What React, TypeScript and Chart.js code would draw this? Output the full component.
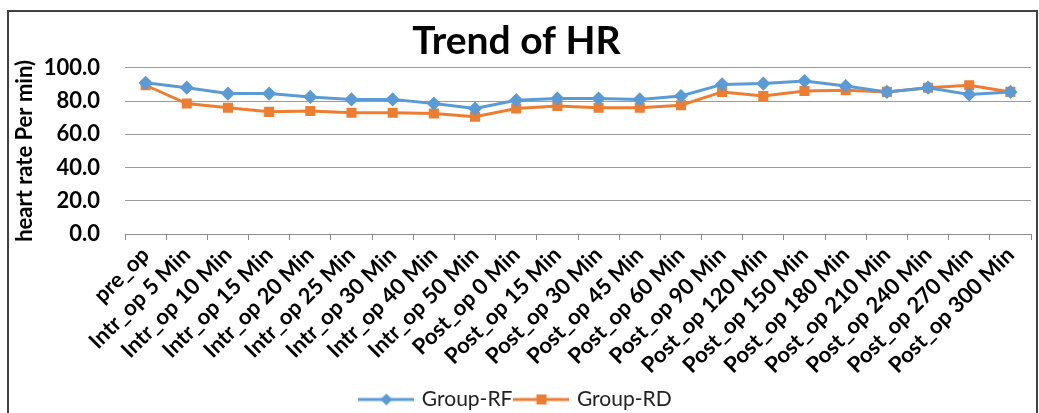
import { useEffect, useRef } from "react";
import { Chart, registerables } from "chart.js";

Chart.register(...registerables);

const chartTitle = "Trend of HR";
const yAxisTitle = "heart rate Per min)";
const categories = [
  "pre_op",
  "Intr_op 5 Min",
  "Intr_op 10 Min",
  "Intr_op 15 Min",
  "Intr_op 20 Min",
  "Intr_op 25 Min",
  "Intr_op 30 Min",
  "Intr_op 40 Min",
  "Intr_op 50 Min",
  "Post_op 0 Min",
  "Post_op 15 Min",
  "Post_op 30 Min",
  "Post_op 45 Min",
  "Post_op 60 Min",
  "Post_op 90 Min",
  "Post_op 120 Min",
  "Post_op 150 Min",
  "Post_op 180 Min",
  "Post_op 210 Min",
  "Post_op 240 Min",
  "Post_op 270 Min",
  "Post_op 300 Min",
];
const groupRF = [91, 88, 84.5, 84.5, 82.5, 81, 81, 78.5, 75.5, 80.5, 81.5, 81.5, 81, 83, 90, 90.5, 92, 89, 85.5, 88, 84, 85.5];
const groupRD = [89.5, 78.5, 76, 73.5, 74, 73, 73, 72.5, 70.5, 75.5, 77, 76, 76, 77.5, 85.5, 83, 86, 86.5, 85.5, 88, 89.5, 85.5];
const yTicks = [0, 20, 40, 60, 80, 100];
const seriesNames = ["Group-RF", "Group-RD"];

const BLUE = "#5B9BD5";
const ORANGE = "#ED7D31";
const FONT = "Lato, 'Open Sans', sans-serif";

function legendIcon(color: string, kind: "diamond" | "square") {
  const c = document.createElement("canvas");
  c.width = 56;
  c.height = 14;
  const ctx = c.getContext("2d")!;
  ctx.strokeStyle = color;
  ctx.lineWidth = 3;
  ctx.beginPath();
  ctx.moveTo(0, 7);
  ctx.lineTo(56, 7);
  ctx.stroke();
  ctx.fillStyle = color;
  if (kind === "diamond") {
    ctx.beginPath();
    ctx.moveTo(28, 1);
    ctx.lineTo(34, 7);
    ctx.lineTo(28, 13);
    ctx.lineTo(22, 7);
    ctx.closePath();
    ctx.fill();
  } else {
    ctx.fillRect(23, 2, 10, 10);
  }
  return c;
}

export default function App() {
  const ref = useRef<HTMLCanvasElement | null>(null);

  useEffect(() => {
    if (!ref.current) return;
    const icons = [legendIcon(BLUE, "diamond"), legendIcon(ORANGE, "square")];
    const chart = new Chart(ref.current, {
      type: "line",
      data: {
        labels: categories,
        datasets: [
          {
            label: seriesNames[0],
            data: groupRF,
            borderColor: BLUE,
            backgroundColor: BLUE,
            borderWidth: 3,
            pointStyle: "rectRot",
            pointRadius: 5,
            pointHoverRadius: 5,
            pointBackgroundColor: BLUE,
            pointBorderColor: BLUE,
            tension: 0,
          },
          {
            label: seriesNames[1],
            data: groupRD,
            borderColor: ORANGE,
            backgroundColor: ORANGE,
            borderWidth: 3,
            pointStyle: "rect",
            pointRadius: 5,
            pointHoverRadius: 5,
            pointBackgroundColor: ORANGE,
            pointBorderColor: ORANGE,
            tension: 0,
          },
        ],
      },
      options: {
        animation: false,
        responsive: true,
        maintainAspectRatio: false,
        layout: { padding: { left: 0, right: 6, top: 0, bottom: 0 } },
        plugins: {
          tooltip: { enabled: false },
          title: {
            display: true,
            text: chartTitle,
            color: "#000",
            font: { family: FONT, size: 39, weight: "bold" },
            padding: { top: 18, bottom: 3 },
          },
          legend: {
            position: "bottom",
            maxHeight: 28,
            labels: {
              usePointStyle: true,
              pointStyleWidth: 50,
              padding: 4,
              color: "#222",
              font: { family: FONT, size: 21 },
              generateLabels: (ch: any) =>
                Chart.defaults.plugins.legend.labels
                  .generateLabels(ch)
                  .map((l: any, i: number) => ({ ...l, pointStyle: icons[i] })),
            },
          },
        },
        scales: {
          x: {
            offset: true,
            afterFit: (s: any) => {
              s.height = 151;
            },
            grid: {
              offset: true,
              drawOnChartArea: false,
              drawTicks: true,
              tickLength: 6,
              color: "#8c8c8c",
            },
            border: { display: true, color: "#8c8c8c", width: 1 },
            ticks: {
              autoSkip: false,
              minRotation: 45,
              maxRotation: 45,
              padding: 2,
              color: "#000",
              font: { family: FONT, size: 22, weight: "bold" },
            },
          },
          y: {
            min: 0,
            max: 100,
            afterFit: (s: any) => {
              s.width = 125;
            },
            afterBuildTicks: (s: any) => {
              s.ticks = yTicks.map((v) => ({ value: v }));
            },
            grid: { drawTicks: false, color: "#9a9a9a", lineWidth: 1 },
            border: { display: false },
            ticks: {
              padding: 25,
              color: "#000",
              font: { family: FONT, size: 22, weight: "bold" },
              callback: (v: any) => Number(v).toFixed(1),
            },
            title: {
              display: true,
              text: yAxisTitle,
              color: "#000",
              font: { family: FONT, size: 22, weight: "bold" },
              padding: { top: 12, bottom: 0 },
            },
          },
        },
      },
    });
    return () => chart.destroy();
  }, []);

  return (
    <div style={{ position: "fixed", left: 0, top: 0, width: 1039, height: 413, background: "#fff" }}>
      <div style={{ position: "absolute", left: 0, top: 0, width: 1039, height: 413 }}>
        <canvas ref={ref} />
      </div>
      <div
        style={{
          position: "absolute",
          left: 7,
          top: 10,
          width: 1027,
          height: 410,
          border: "2px solid #404040",
          pointerEvents: "none",
        }}
      />
    </div>
  );
}
